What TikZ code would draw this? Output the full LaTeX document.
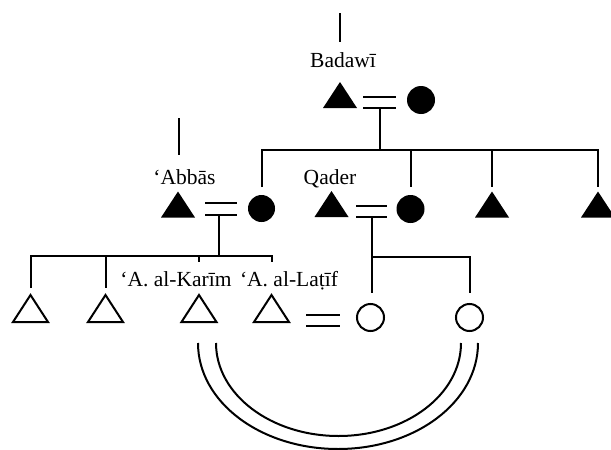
\documentclass[tikz,border=0pt]{standalone}
\usepackage{fontspec}
\setmainfont{Liberation Serif}
\usetikzlibrary{calc}
\begin{document}
\begin{tikzpicture}[x=1pt,y=-1pt,
  ln/.style={line width=2pt},
  lbl/.style={anchor=base, inner sep=0pt, font=\fontsize{21.5}{25}\selectfont},
  tribox/.style={minimum width=34pt, minimum height=26pt, inner sep=0pt, outer sep=0pt},
  otribox/.style={minimum width=35pt, minimum height=27pt, inner sep=0pt, outer sep=0pt},
  fcirc/.style={circle, fill=black, inner sep=0pt, outer sep=0pt, minimum size=27pt},
  ocirc/.style={circle, draw=black, line width=2pt, inner sep=0pt, outer sep=0pt, minimum size=27pt}]
\useasboundingbox (0,0) rectangle (611,450);
\clip (0,0) rectangle (611,450);
% persons
\node[tribox] (bw) at (340,95) {};
\node[fcirc, minimum size=28pt] (bww) at (421,100) {};
\node[tribox] (ab) at (178,204.5) {};
\node[fcirc] (abw) at (261.5,208.5) {};
\node[tribox] (qa) at (331.5,204) {};
\node[fcirc, minimum size=28pt] (qaw) at (410.5,209) {};
\node[tribox] (s3) at (492,204.5) {};
\node[tribox] (s4) at (598,204.5) {};
\node[otribox] (c1) at (30.5,308.5) {};
\node[otribox] (c2) at (105.5,308.5) {};
\node[otribox] (c3) at (199,308.5) {};
\node[otribox] (c4) at (271.5,308.5) {};
\node[ocirc] (d1) at (370.5,317.5) {};
\node[ocirc] (d2) at (469.5,317.5) {};
\foreach \n in {bw,ab,qa,s3,s4}
  \fill (\n.south west) -- (\n.south east) -- (\n.north) -- cycle;
\foreach \n in {c1,c2,c3,c4}
  \draw[ln] (\n.south west) -- (\n.south east) -- (\n.north) -- cycle;
% labels
\node[lbl] (lbw) at (343,67) {Badawī};
\node[lbl] (lab) at (184.5,184) {‘Abbās};
\node[lbl] (lqa) at (330,184) {Qader};
\node[lbl] (lc3) at (176,286) {‘A. al-Karīm};
\node[lbl] (lc4) at (289,286) {‘A. al-Laṭīf};
% ascent lines
\coordinate (bwtop) at (340,13);
\coordinate (abtop) at (179,118);
\draw[ln, shorten >=10pt] (bwtop) -- (bwtop |- lbw.north);
\draw[ln, shorten >=14pt] (abtop) -- (abtop |- lab.north);
% marriages
\draw[ln] ($(bw.south east)+(6,0)$) coordinate (bwe1) -- ($(bww.west |- bw.south)+(-11,0)$) coordinate (bwe2);
\draw[ln] ($(bwe1)+(0,-11)$) -- ($(bwe2)+(0,-11)$);
\draw[ln] ($(ab.east)+(10,10.5)$) coordinate (abe1) -- ($(abw.west |- abe1)+(-11,0)$) coordinate (abe2);
\draw[ln] ($(abe1)+(0,-12)$) -- ($(abe2)+(0,-12)$);
\draw[ln] ($(qa.east)+(7.5,13)$) coordinate (qae1) -- ($(qaw.west |- qae1)+(-9.5,0)$) coordinate (qae2);
\draw[ln] ($(qae1)+(0,-11)$) -- ($(qae2)+(0,-11)$);
\draw[ln] ($(c4.east)+(17,17.5)$) coordinate (cde1) -- ($(d1.west |- cde1)+(-17,0)$) coordinate (cde2);
\draw[ln] ($(cde1)+(0,-11)$) -- ($(cde2)+(0,-11)$);
% descent lines
\coordinate (L1) at (0,150);
\coordinate (L1b) at (0,187);
\coordinate (bwm) at ($(bwe1)!0.5!(bwe2)$);
\draw[ln] (bwm) -- (bwm |- L1);
\draw[ln] (abw |- L1b) -- (abw |- L1) -- (s4 |- L1) -- (s4 |- L1b);
\draw[ln] (qaw |- L1) -- (qaw |- L1b);
\draw[ln] (s3 |- L1) -- (s3 |- L1b);
\coordinate (L2) at (0,256);
\coordinate (L2b) at (0,288);
\coordinate (L2s) at (0,262);
\coordinate (abm) at (219,0);
\draw[ln] (abm |- abe1) -- (abm |- L2);
\draw[ln] (c1 |- L2b) -- (c1 |- L2) -- (c4 |- L2) -- (c4 |- L2s);
\draw[ln] (c2 |- L2) -- (c2 |- L2b);
\draw[ln] (c3 |- L2) -- (c3 |- L2s);
\coordinate (L3) at (0,257);
\coordinate (L3b) at (0,293);
\coordinate (qam) at ($(qae1)!0.5!(qae2)$);
\draw[ln] (qam) -- (qam |- L3b);
\draw[ln] (qam |- L3) -| (d2 |- L3b);
% cross-cousin marriage arcs
\coordinate (oL) at ($(c3 |- 0,343)+(-1,0)$);
\coordinate (oR) at ($(d2 |- 0,343)+(8.5,0)$);
\coordinate (iL) at ($(c3 |- 0,343)+(17,0)$);
\coordinate (iR) at ($(d2 |- 0,343)+(-8.5,0)$);
\draw[ln] (oL) .. controls ($(oL)+(0,59.1)$) and (260.7,449) .. (338,449) .. controls (415.3,449) and ($(oR)+(0,59.1)$) .. (oR);
\draw[ln] (iL) .. controls ($(iL)+(0,51.4)$) and (270.8,436) .. (338.5,436) .. controls (406.2,436) and ($(iR)+(0,51.4)$) .. (iR);
\end{tikzpicture}
\end{document}
